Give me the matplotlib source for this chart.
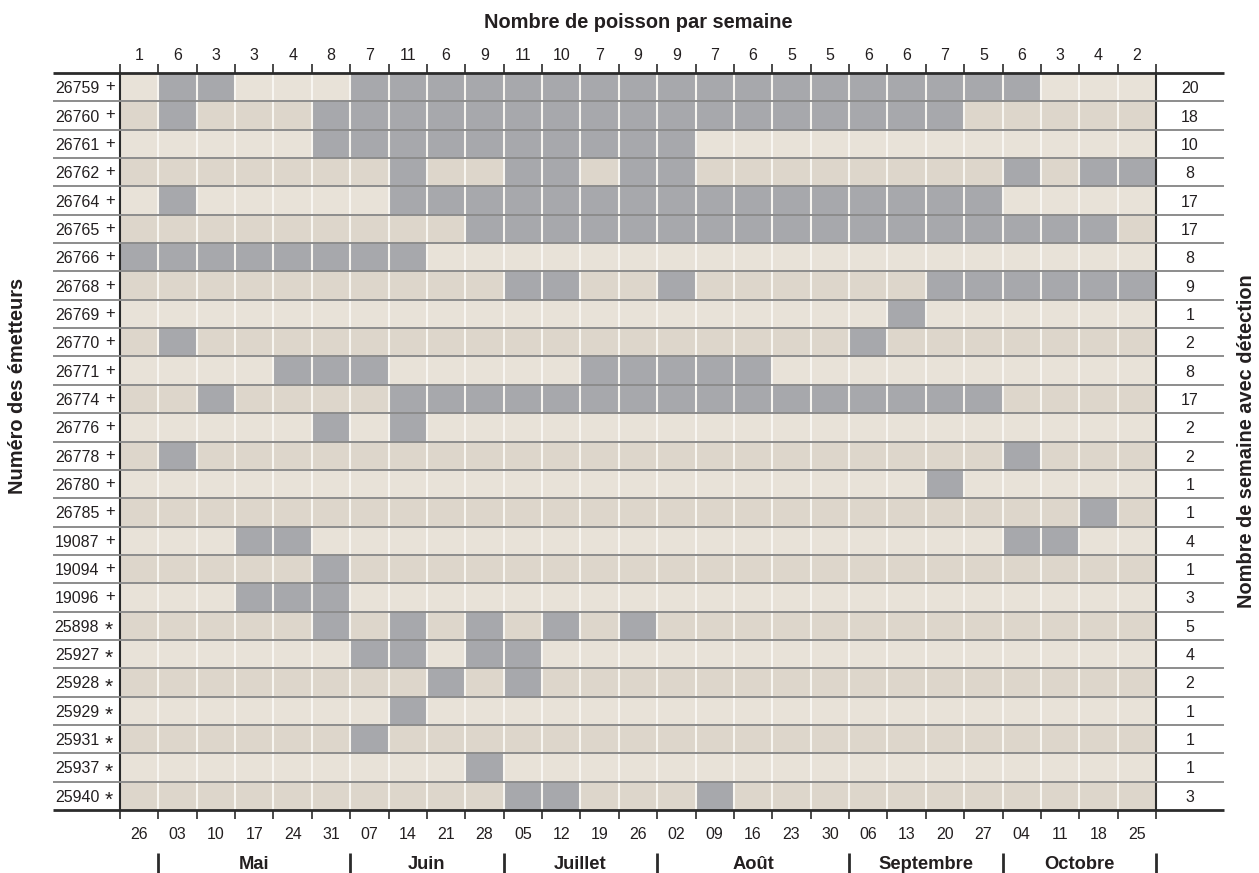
import matplotlib.pyplot as plt
import numpy as np
from matplotlib.colors import ListedColormap

plt.rcParams['font.family'] = ['Liberation Sans', 'DejaVu Sans']

# emetteurs (+ / * = type de marquage)
emetteurs = ['26759 +', '26760 +', '26761 +', '26762 +', '26764 +', '26765 +',
             '26766 +', '26768 +', '26769 +', '26770 +', '26771 +', '26774 +',
             '26776 +', '26778 +', '26780 +', '26785 +', '19087 +', '19094 +',
             '19096 +', '25898 *', '25927 *', '25928 *', '25929 *', '25931 *',
             '25937 *', '25940 *']

semaines = ['26', '03', '10', '17', '24', '31', '07', '14', '21', '28', '05', '12',
            '19', '26', '02', '09', '16', '23', '30', '06', '13', '20', '27', '04',
            '11', '18', '25']

mois = ['Mai', 'Juin', 'Juillet', 'Août', 'Septembre', 'Octobre']
semaines_par_mois = [5, 4, 4, 5, 4, 4]

# '#' = detection ; groupes : avril | mai | juin | juillet | aout | sept | oct
detections = [
    '. ##... #### #### ##### #### #...',
    '. #...# #### #### ##### ###. ....',
    '. ....# #### #### #.... .... ....',
    '. ..... .#.. ##.# #.... .... #.##',
    '. #.... .### #### ##### #### ....',
    '. ..... ...# #### ##### #### ###.',
    '# ##### ##.. .... ..... .... ....',
    '. ..... .... ##.. #.... ..## ####',
    '. ..... .... .... ..... .#.. ....',
    '. #.... .... .... ..... #... ....',
    '. ...## #... ..## ###.. .... ....',
    '. .#... .### #### ##### #### ....',
    '. ....# .#.. .... ..... .... ....',
    '. #.... .... .... ..... .... #...',
    '. ..... .... .... ..... ..#. ....',
    '. ..... .... .... ..... .... ..#.',
    '. ..##. .... .... ..... .... ##..',
    '. ....# .... .... ..... .... ....',
    '. ..### .... .... ..... .... ....',
    '. ....# .#.# .#.# ..... .... ....',
    '. ..... ##.# #... ..... .... ....',
    '. ..... ..#. #... ..... .... ....',
    '. ..... .#.. .... ..... .... ....',
    '. ..... #... .... ..... .... ....',
    '. ..... ...# .... ..... .... ....',
    '. ..... .... ##.. .#... .... ....',
]

grille = np.array([[c == '#' for c in l.replace(' ', '')] for l in detections], dtype=int)
n_lig, n_sem = grille.shape
poissons_semaine = grille.sum(axis=0)
semaines_detection = grille.sum(axis=1)

texte = '#231f20'
trait = '#2b2b2b'
fond = (np.arange(n_lig) % 2)[:, None] * np.ones((1, n_sem), dtype=int)
valeurs = np.where(grille == 1, 2, fond)

W, H = 1259, 873
fig = plt.figure(figsize=(W / 100, H / 100), dpi=100)
ax = fig.add_axes([120 / W, 1 - 810 / H, 1036 / W, 737 / H])

cmap = ListedColormap(['#e8e2d8', '#ddd6cb', '#a7a8ac'])
ax.pcolormesh(np.arange(n_sem + 1), np.arange(n_lig + 1), valeurs,
              cmap=cmap, vmin=-0.5, vmax=2.5)
ax.set_xlim(0, n_sem)
ax.set_ylim(n_lig, 0)

ax.vlines(np.arange(1, n_sem), 0, n_lig, color='#f8f6f1', lw=1.5, zorder=2)
x0, x1 = -1.75, n_sem + 1.77
ax.hlines(np.arange(1, n_lig), x0, x1, color='#8c8c8c', lw=1.4, zorder=3, clip_on=False)
ax.hlines([0, n_lig], x0, x1, color=trait, lw=2, zorder=4, clip_on=False)

for s in ['top', 'bottom']:
    ax.spines[s].set_visible(False)
for s in ['left', 'right']:
    ax.spines[s].set_color(trait)
    ax.spines[s].set_linewidth(1.5)

# ticks aux limites de semaine, etiquettes au centre
ax.set_xticks(np.arange(n_sem + 1))
ax.set_xticklabels([])
ax.tick_params(axis='x', which='major', top=True, bottom=True, direction='out',
               length=6.5, width=1.2, color=trait)
ax.set_xticks(np.arange(n_sem) + 0.5, minor=True)
ax.set_xticklabels(semaines, minor=True)
ax.tick_params(axis='x', which='minor', length=0, pad=12, labelsize=11.5,
               labelcolor=texte)

haut = ax.secondary_xaxis('top')
haut.set_xticks(np.arange(n_sem) + 0.5, labels=[str(v) for v in poissons_semaine])
haut.tick_params(length=0, pad=7.2, labelsize=11.5, labelcolor=texte)
for s in haut.spines.values():
    s.set_visible(False)

ax.set_yticks(np.arange(n_lig) + 0.5)
ax.set_yticklabels([e.split()[0] for e in emetteurs])
ax.tick_params(axis='y', length=0, pad=15, labelsize=11.5, labelcolor=texte)
for i, e in enumerate(emetteurs):
    m = e.split()[1]
    if m == '+':
        ax.text(-0.0145, i + 0.64, m, transform=ax.get_yaxis_transform(),
                ha='left', va='baseline', fontsize=12, color=texte)
    else:
        ax.text(-0.0145, i + 0.86, m, transform=ax.get_yaxis_transform(),
                ha='left', va='baseline', fontsize=15, color=texte)

droite = ax.secondary_yaxis('right')
droite.set_yticks(np.arange(n_lig) + 0.5, labels=[str(v) for v in semaines_detection])
droite.tick_params(length=0, pad=24.5, labelsize=11.5, labelcolor=texte)
for lab in droite.get_yticklabels():
    lab.set_ha('center')
for s in droite.spines.values():
    s.set_visible(False)

# mois
bornes = np.concatenate([[1], 1 + np.cumsum(semaines_par_mois)])
ax.vlines(bornes, 27.51, 28.3, color=trait, lw=2, clip_on=False)
for nom, a, b in zip(mois, bornes[:-1], bornes[1:]):
    ax.text((a + b) / 2, 28.09, nom, ha='center', va='baseline', fontsize=13.2,
            fontweight='bold', color=texte)

ax.text(0.5, 1.0611, 'Nombre de poisson par semaine', transform=ax.transAxes,
        ha='center', va='baseline', fontsize=14.4, fontweight='bold', color=texte)
ax.text(-0.0994, 0.575, 'Numéro des émetteurs', transform=ax.transAxes, rotation=90,
        ha='center', va='center', fontsize=14.4, fontweight='bold', color=texte)
ax.text(1.0878, 0.5, 'Nombre de semaine avec détection', transform=ax.transAxes,
        rotation=90, ha='center', va='center', fontsize=14.4, fontweight='bold', color=texte)

fig.savefig('out.png', dpi=100)
